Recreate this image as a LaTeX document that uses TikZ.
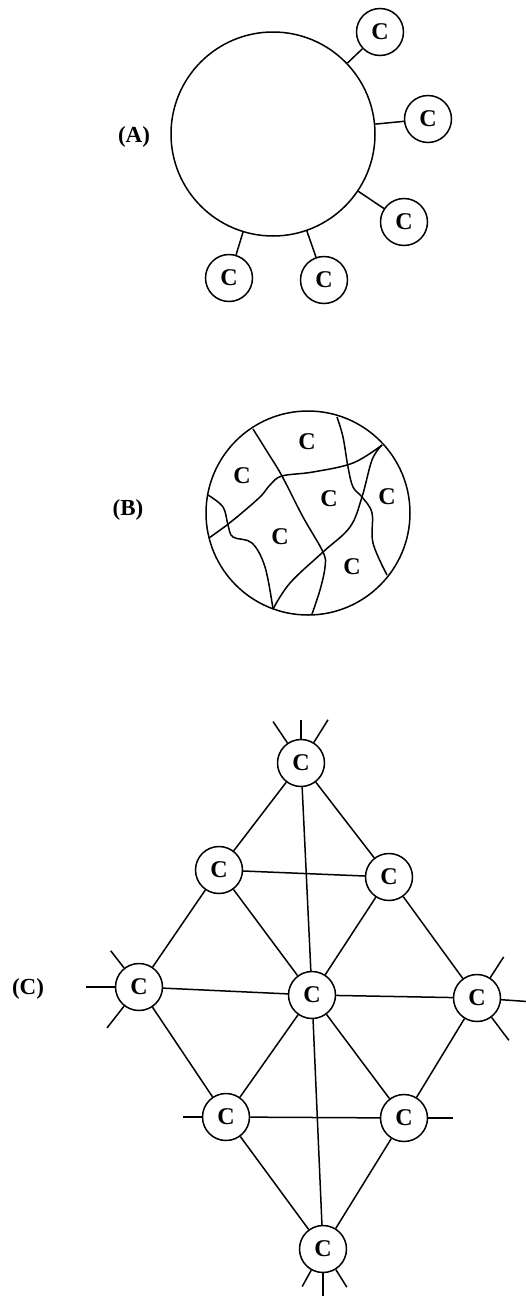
\documentclass[tikz,border=0pt]{standalone}
\usepackage{fontspec}
\setmainfont{Liberation Serif}
\usetikzlibrary{calc}
\begin{document}
\begin{tikzpicture}[x=1pt,y=-1pt, line width=1.5pt,
  cnode/.style={circle,draw,minimum size=47pt,inner sep=0pt,font=\bfseries\fontsize{24}{24}\selectfont},
  bignode/.style={circle,draw,minimum size=204pt,inner sep=0pt},
  clabel/.style={inner sep=0pt,font=\bfseries\fontsize{24}{24}\selectfont},
  plabel/.style={inner sep=0pt,font=\bfseries\fontsize{23}{23}\selectfont},
  cell/.style={line width=1.5pt,line join=round}]
\useasboundingbox (0,0) rectangle (526,1296);

% ---------- (A) ----------
\node[plabel] (la) at (134,137) {(A)};
\node[bignode] (A) at (273,134) {};
\node[cnode] (a1) at (380,32) {C};
\node[cnode] (a2) at (428,119) {C};
\node[cnode] (a3) at (404,222) {C};
\node[cnode] (a4) at (324,280) {C};
\node[cnode] (a5) at (229,278) {C};
\foreach \n in {a1,a2,a3,a4,a5} \draw (A) -- (\n);

% ---------- (B) ----------
\node[plabel] (lb) at (128,510) {(B)};
\node[bignode] (Bc) at (308,513) {};
\draw[cell] plot[smooth,tension=0.6] coordinates {(253,429) (268,453) (282,476) (303,517) (323,552) (325,567) (320,590) (312,614)};
\draw[cell] plot[smooth,tension=0.6] coordinates {(209,538) (227,525) (237,517) (260,497) (270,485) (282,476) (313,472) (353,463) (382,445)};
\draw[cell] plot[smooth,tension=0.6] coordinates {(337,417) (343,437) (348,467) (353,487) (362,497) (372,513) (373,543) (387,575)};
\draw[cell] plot[smooth,tension=0.6] coordinates {(382,445) (372,460) (362,497) (350,527) (323,552) (290,583) (273,609)};
\draw[cell] plot[smooth,tension=0.6] coordinates {(208,495) (223,507) (228,525) (233,537) (252,543) (265,567) (273,609)};
\node[clabel] (b1) at (307,442) {C};
\node[clabel] (b2) at (242,476) {C};
\node[clabel] (b3) at (329,499) {C};
\node[clabel] (b4) at (387,497) {C};
\node[clabel] (b5) at (280,537) {C};
\node[clabel] (b6) at (352,567) {C};

% ---------- (C) ----------
\node[plabel] (lc) at (28,989) {(C)};
\node[cnode] (top) at (301,763) {C};
\node[cnode] (ul) at (219,870) {C};
\node[cnode] (ur) at (389,877) {C};
\node[cnode] (l) at (139,987) {C};
\node[cnode] (m) at (312,995) {C};
\node[cnode] (r) at (477,998) {C};
\node[cnode] (ll) at (226,1117) {C};
\node[cnode] (lr) at (404,1118) {C};
\node[cnode] (bt) at (323,1249) {C};

\draw (top) -- (ul);
\draw (top) -- (ur);
\draw (top) -- (m);
\draw (ul) -- (ur);
\draw (ul) -- (l);
\draw (ul) -- (m);
\draw (ur) -- (m);
\draw (ur) -- (r);
\draw (l) -- (m);
\draw (m) -- (r);
\draw (l) -- (ll);
\draw (m) -- (ll);
\draw (m) -- (lr);
\draw (r) -- (lr);
\draw (ll) -- (lr);
\draw (m) -- (bt);
\draw (ll) -- (bt);
\draw (lr) -- (bt);

% free ends of stubs
\coordinate (t1) at ($(top)+(124:50pt)$);
\coordinate (t2) at ($(top)+(90:43pt)$);
\coordinate (t3) at ($(top)+(58:51pt)$);
\coordinate (l1) at ($(l)+(128:46pt)$);
\coordinate (l2) at ($(l)+(180:53pt)$);
\coordinate (l3) at ($(l)+(232:52pt)$);
\coordinate (r1) at ($(r)+(57:49pt)$);
\coordinate (r2) at ($(r)+(-4:50pt)$);
\coordinate (r3) at ($(r)+(-53:53pt)$);
\coordinate (ll1) at ($(ll)+(180:43pt)$);
\coordinate (lr1) at ($(lr)+(0:49pt)$);
\coordinate (bt1) at ($(bt)+(241:43pt)$);
\coordinate (bt2) at ($(bt)+(270:47pt)$);
\coordinate (bt3) at ($(bt)+(302:45pt)$);
\foreach \a/\b in {top/t1,top/t2,top/t3,l/l1,l/l2,l/l3,r/r1,r/r2,r/r3,ll/ll1,lr/lr1,bt/bt1,bt/bt2,bt/bt3}
  \draw (\a) -- (\b);
\end{tikzpicture}
\end{document}
